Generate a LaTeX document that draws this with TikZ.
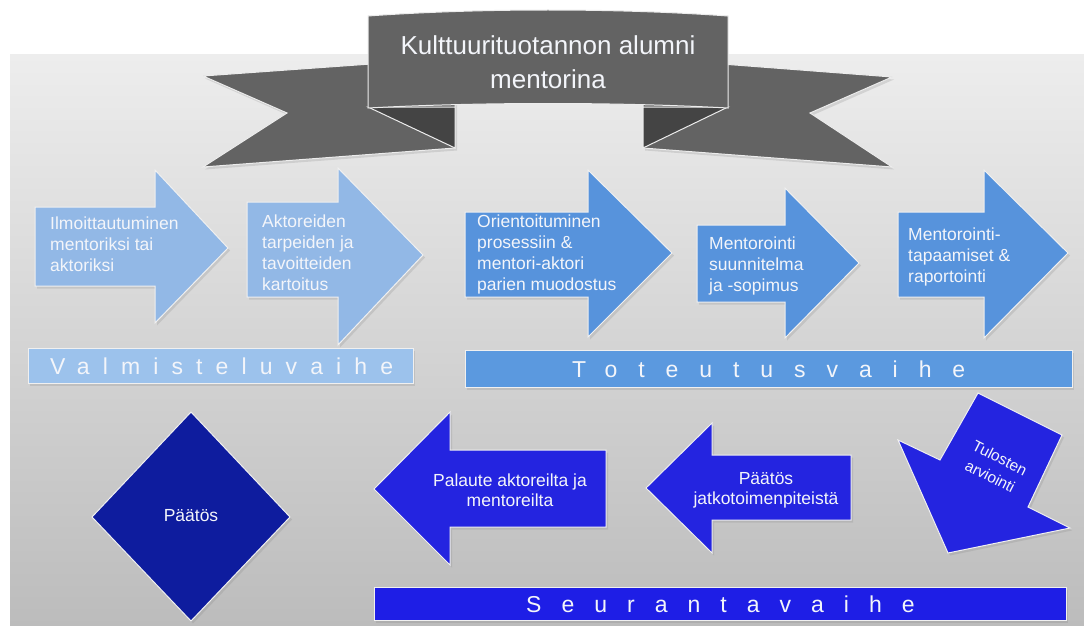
\documentclass[tikz,border=0pt]{standalone}
\usepackage{fontspec}
\setmainfont{Liberation Sans}
\usetikzlibrary{shadows}
\definecolor{bgtop}{HTML}{EDEDED}
\definecolor{bgbot}{HTML}{BCBCBC}
\definecolor{ribbon}{HTML}{636363}
\definecolor{ribfold}{HTML}{444444}
\definecolor{lblue}{HTML}{92B8E6}
\definecolor{lbar}{HTML}{9CC2EC}
\definecolor{mblue}{HTML}{5793DC}
\definecolor{mbar}{HTML}{5B99DF}
\definecolor{dblue}{HTML}{2424E0}
\definecolor{dbar}{HTML}{1E1EE6}
\definecolor{navy}{HTML}{0E1C9E}
\definecolor{txt}{HTML}{F3F5FA}
\begin{document}
\begin{tikzpicture}[x=1pt,y=-1pt,
  shade/.style={drop shadow={opacity=0.22, shadow xshift=2pt, shadow yshift=-2.5pt}},
  edge/.style={draw=white!88!gray, line width=1pt, line join=miter, shade},
  lbox/.style={edge, fill=lblue},
  mbox/.style={edge, fill=mblue},
  dbox/.style={edge, fill=dblue},
  rib/.style={draw=white!85!gray, line width=1pt, fill=ribbon},
  atext/.style={anchor=north west, inner sep=0pt, text=txt, align=left,
     font=\fontsize{17.5}{21}\selectfont},
  ctext/.style={inner sep=0pt, text=txt, align=center,
     font=\fontsize{17.5}{20}\selectfont},
  bartext/.style={anchor=west, inner sep=0pt, text=txt,
     font=\fontsize{23}{26}\selectfont}
]
\useasboundingbox (0,0) rectangle (1084,626);
\fill[white] (0,0) rectangle (1084,626);
% background panel
\shade[top color=bgtop, bottom color=bgbot] (10,55) rectangle (1084,626);

% ribbon
\path[rib, shade] (203,76) -- (455,58) -- (455,148) -- (203,167) -- (287,113) -- cycle;
\path[rib, shade] (892,77) -- (643,58) -- (643,148) -- (892,167) -- (810,113) -- cycle;
\path[rib, fill=ribfold] (368,107) -- (455,107) -- (455,148) -- cycle;
\path[rib, fill=ribfold] (728,107) -- (643,107) -- (643,148) -- cycle;
\path[rib] (368,16) .. controls (480,8) and (616,8) .. (728,16) -- (728,108)
   .. controls (616,102) and (480,102) .. (368,108) -- cycle;
\node[inner sep=0pt, anchor=north, text=txt, align=center,
  font=\fontsize{26}{34}\selectfont] (title) at (548,35)
  {Kulttuurituotannon alumni\\mentorina};

% top arrows
\path[lbox] (35,207) -- (155,207) -- (155,170) -- (228,248) -- (155,323) -- (155,286) -- (35,286) -- cycle;
\path[lbox] (247,202) -- (338,202) -- (338,168) -- (423,255) -- (338,345) -- (338,297) -- (247,297) -- cycle;
\path[mbox] (465,212) -- (588,212) -- (588,170) -- (672,253) -- (588,337) -- (588,297) -- (465,297) -- cycle;
\path[mbox] (697,225) -- (785,225) -- (785,188) -- (859,263) -- (785,338) -- (785,302) -- (697,302) -- cycle;
\path[mbox] (898,212) -- (984,212) -- (984,170) -- (1068,253) -- (984,338) -- (984,297) -- (898,297) -- cycle;

\node[atext] (a1) at (50,217) {Ilmoittautuminen\\mentoriksi tai\\aktoriksi};
\node[atext] (a2) at (262,215) {Aktoreiden\\tarpeiden ja\\tavoitteiden\\kartoitus};
\node[atext] (a3) at (477,215) {Orientoituminen\\prosessiin \&\\mentori-aktori\\parien muodostus};
\node[atext] (a4) at (709,237) {Mentorointi\\suunnitelma\\ja -sopimus};
\node[atext] (a5) at (908,228) {Mentorointi-\\tapaamiset \&\\raportointi};

% phase bars
\path[edge, fill=lbar] (28,348) rectangle (413,383);
\path[edge, fill=mbar] (465,350) rectangle (1072,387);
\path[edge, fill=dbar] (374,587) rectangle (1066,620);
\node[bartext] (p1) at (50,366) {\addfontfeatures{LetterSpace=57}Valmisteluvaihe};
\node[bartext] (p2) at (572,369) {\addfontfeatures{LetterSpace=91}Toteutusvaihe};
\node[bartext] (p3) at (526,604) {\addfontfeatures{LetterSpace=87}Seurantavaihe};

% bottom shapes
\path[edge, fill=navy] (191,412) -- (290,517) -- (191,621) -- (92,517) -- cycle;
\node[ctext] (d) at (191,516) {Päätös};

\path[dbox] (606,450) -- (450,450) -- (450,412) -- (374,489) -- (450,565) -- (450,527) -- (606,527) -- cycle;
\node[ctext] (b1) at (510,490) {Palaute aktoreilta ja\\mentoreilta};

\path[dbox] (851,455) -- (712,455) -- (712,423) -- (646,488) -- (712,553) -- (712,520) -- (851,520) -- cycle;
\node[ctext] (b2) at (766,490) {Päätös\\jatkotoimenpiteistä};

\path[dbox] (978,393) -- (1062,435) -- (1028,507) -- (1070,528) -- (948,553) -- (898,440) -- (940,460) -- cycle;
\node[ctext, rotate=-27, font=\fontsize{15.5}{21}\selectfont] (b3) at (995,467) {Tulosten\\arviointi};
\end{tikzpicture}
\end{document}
